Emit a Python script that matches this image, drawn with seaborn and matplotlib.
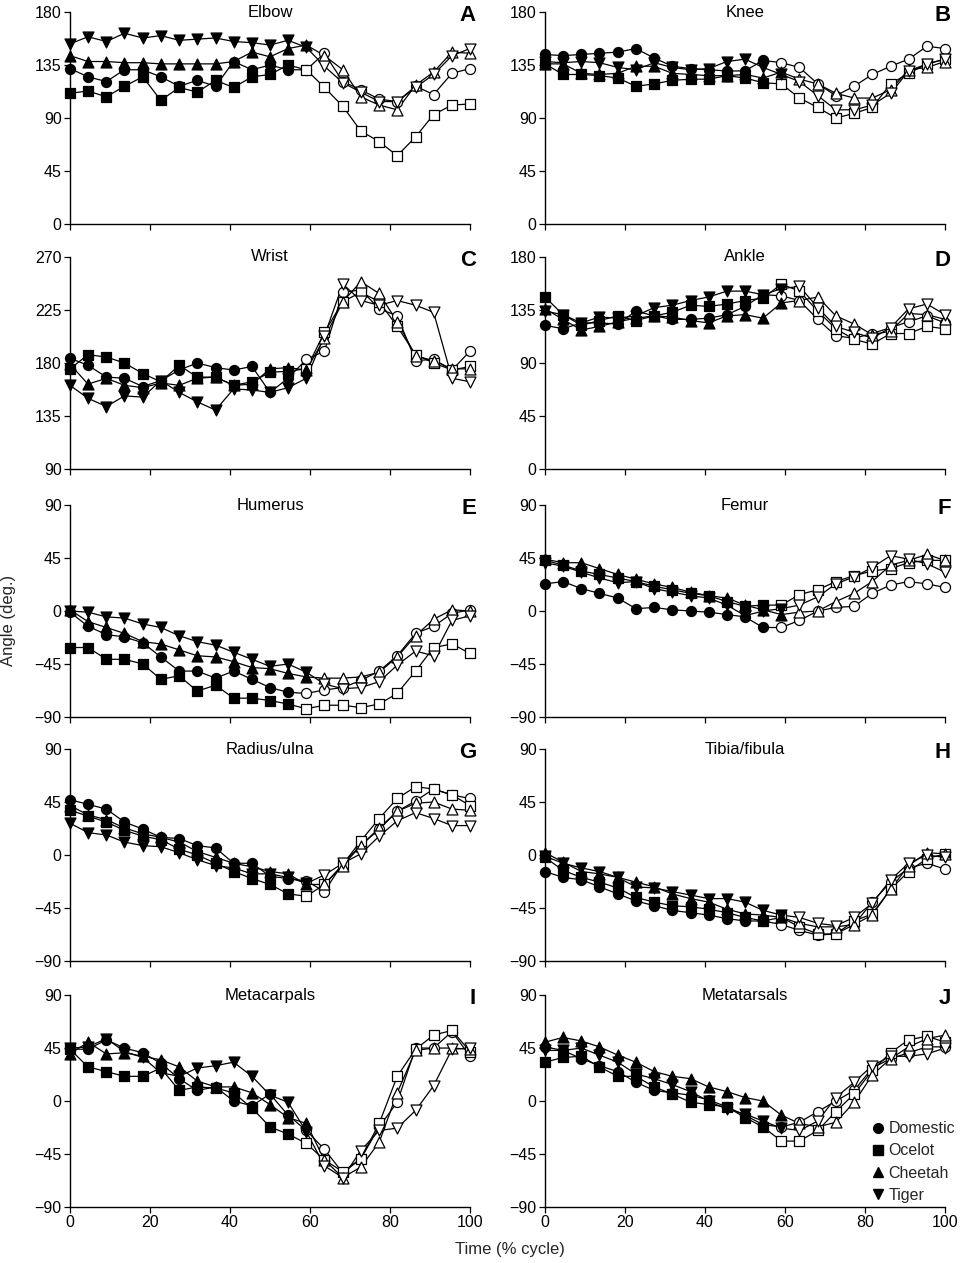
import numpy as np
import pandas as pd
import matplotlib
matplotlib.use("Agg")
import matplotlib.pyplot as plt
import seaborn as sns
from matplotlib.lines import Line2D

# ---------------- data ----------------
X = [0, 4.5, 9.1, 13.6, 18.2, 22.7, 27.3, 31.8, 36.4, 40.9, 45.5, 50.0,
     54.5, 59.1, 63.6, 68.2, 72.7, 77.3, 81.8, 86.4, 90.9, 95.5, 100]
SPECIES = ["Domestic", "Ocelot", "Cheetah", "Tiger"]

ELBOW_DOMESTIC = [132,125,121,131,131,125,117,122,117,138,131,135,131,131,145,121,114,106,104,117,110,128,132]
ELBOW_OCELOT   = [111,113,108,117,125,105,116,112,122,116,125,127,135,131,116,100,79,70,58,74,93,101,102]
ELBOW_CHEETAH  = [143,138,138,137,137,136,136,136,136,138,146,142,149,152,143,131,108,101,97,118,129,146,145]
ELBOW_TIGER    = [153,159,155,162,158,160,156,157,158,155,154,152,156,150,134,120,112,104,104,116,127,143,149]

KNEE_DOMESTIC = [144,143,144,145,146,149,141,134,132,131,130,130,139,137,133,119,109,117,127,134,140,151,149]
KNEE_OCELOT   = [136,127,127,126,124,117,119,122,123,123,126,124,120,119,107,99,90,94,99,119,128,136,140]
KNEE_CHEETAH  = [136,136,128,127,128,134,134,128,127,126,126,127,124,129,123,119,111,107,107,114,131,133,138]
KNEE_TIGER    = [138,137,138,137,133,131,137,133,131,132,138,140,133,127,121,109,97,97,101,111,130,136,140]

WRIST_DOMESTIC = [184,178,168,167,160,165,174,180,176,174,177,155,167,183,190,240,242,226,220,182,183,174,190]
WRIST_OCELOT   = [175,187,185,180,171,164,178,168,168,161,164,172,173,175,206,232,240,232,211,187,180,174,177]
WRIST_CHEETAH  = [179,162,167,161,159,163,161,167,168,161,162,175,176,174,201,232,249,239,215,186,182,175,175]
WRIST_TIGER    = [161,150,143,152,151,165,155,147,140,158,157,155,159,167,203,247,233,229,233,229,223,167,164]

ANKLE_DOMESTIC = [122,119,124,124,123,134,130,127,127,128,131,138,148,147,143,127,113,111,115,120,125,130,124]
ANKLE_OCELOT   = [146,131,122,126,130,126,130,133,139,138,140,143,145,157,151,134,119,110,106,115,115,121,119]
ANKLE_CHEETAH  = [136,127,118,121,125,128,130,129,126,124,130,131,128,141,143,146,130,123,114,117,132,131,127]
ANKLE_TIGER    = [134,131,124,129,128,130,137,139,143,146,151,151,148,153,155,137,121,116,111,120,136,140,131]

HUMERUS_DOMESTIC = [-1,-13,-20,-22,-27,-39,-51,-51,-57,-51,-58,-65,-69,-70,-67,-65,-59,-51,-38,-19,-13,-2,1]
HUMERUS_OCELOT   = [-31,-31,-41,-41,-45,-58,-55,-68,-63,-74,-74,-76,-79,-83,-80,-80,-82,-79,-70,-51,-31,-28,-36]
HUMERUS_CHEETAH  = [1,-9,-14,-19,-26,-28,-33,-38,-39,-43,-48,-49,-53,-56,-57,-57,-56,-52,-39,-21,-7,1,0]
HUMERUS_TIGER    = [0,-1,-5,-6,-11,-14,-21,-26,-29,-35,-41,-47,-45,-52,-62,-66,-65,-60,-46,-34,-38,-8,-4]

FEMUR_DOMESTIC = [23,25,19,15,11,2,3,1,0,-1,-3,-5,-14,-14,-8,0,3,4,15,22,25,23,20]
FEMUR_OCELOT   = [43,39,34,31,28,25,21,18,15,13,8,4,5,5,14,18,25,30,34,36,41,43,43]
FEMUR_CHEETAH  = [44,41,41,36,31,27,23,20,16,13,11,5,1,-3,-1,0,8,15,25,39,43,48,43]
FEMUR_TIGER    = [41,38,33,28,24,25,19,16,13,11,5,-4,0,2,5,12,23,29,37,47,44,40,33]

RADIUS_DOMESTIC = [47,43,39,28,22,15,14,8,6,-7,-7,-18,-20,-22,-31,-7,8,22,37,46,56,51,48]
RADIUS_OCELOT   = [38,33,28,21,16,13,5,0,-7,-14,-20,-25,-33,-35,-25,-8,12,31,48,58,56,51,42]
RADIUS_CHEETAH  = [42,34,30,23,18,15,11,3,-2,-7,-10,-14,-16,-25,-25,-9,8,23,37,44,45,39,38]
RADIUS_TIGER    = [27,19,17,11,8,7,2,-4,-9,-11,-16,-16,-19,-24,-17,-7,1,16,29,36,31,25,25]

TIBIA_DOMESTIC = [-14,-19,-21,-27,-33,-39,-43,-47,-49,-51,-54,-56,-56,-59,-64,-68,-67,-59,-40,-23,-11,-7,-12]
TIBIA_OCELOT   = [-2,-13,-19,-23,-28,-36,-40,-43,-44,-46,-49,-53,-56,-53,-61,-67,-67,-56,-50,-29,-14,-3,1]
TIBIA_CHEETAH  = [2,-6,-14,-16,-19,-23,-27,-33,-37,-40,-46,-50,-51,-53,-58,-61,-61,-59,-51,-29,-9,2,1]
TIBIA_TIGER    = [-1,-7,-11,-14,-19,-27,-28,-31,-34,-37,-37,-40,-47,-51,-53,-58,-60,-53,-41,-21,-7,0,-2]

METACARPAL_DOMESTIC = [44,44,52,45,41,32,19,9,12,0,-4,6,-12,-25,-41,-61,-49,-22,-1,45,45,59,38]
METACARPAL_OCELOT   = [44,29,25,21,21,28,9,12,11,7,-6,-22,-28,-36,-50,-60,-49,-19,21,44,56,60,42]
METACARPAL_CHEETAH  = [40,50,40,41,38,35,29,17,12,12,7,-3,-14,-19,-50,-65,-56,-35,7,43,45,45,44]
METACARPAL_TIGER    = [45,46,53,42,37,24,21,28,30,33,21,5,-1,-26,-55,-65,-42,-25,-23,-8,13,44,45]

METATARSAL_DOMESTIC = [46,43,36,30,25,16,9,7,5,1,-5,-12,-20,-22,-18,-9,0,9,28,36,41,46,46]
METATARSAL_OCELOT   = [33,37,38,29,21,21,12,6,-1,-3,-5,-14,-22,-34,-34,-25,-9,6,26,41,52,55,50]
METATARSAL_CHEETAH  = [50,54,51,46,39,33,25,21,19,12,8,3,0,-12,-19,-22,-18,-1,22,36,46,53,56]
METATARSAL_TIGER    = [43,43,45,39,33,23,19,14,8,0,-7,-11,-17,-23,-25,-17,3,16,30,38,38,40,45]

TITLES = ["Elbow", "Knee", "Wrist", "Ankle", "Humerus", "Femur",
          "Radius/ulna", "Tibia/fibula", "Metacarpals", "Metatarsals"]
LETTERS = ["A", "B", "C", "D", "E", "F", "G", "H", "I", "J"]
Y_TICKS = [[0, 45, 90, 135, 180], [0, 45, 90, 135, 180],
           [90, 135, 180, 225, 270], [0, 45, 90, 135, 180],
           [-90, -45, 0, 45, 90], [-90, -45, 0, 45, 90],
           [-90, -45, 0, 45, 90], [-90, -45, 0, 45, 90],
           [-90, -45, 0, 45, 90], [-90, -45, 0, 45, 90]]
X_TICKS = [0, 20, 40, 60, 80, 100]

SERIES = [
    [ELBOW_DOMESTIC, ELBOW_OCELOT, ELBOW_CHEETAH, ELBOW_TIGER],
    [KNEE_DOMESTIC, KNEE_OCELOT, KNEE_CHEETAH, KNEE_TIGER],
    [WRIST_DOMESTIC, WRIST_OCELOT, WRIST_CHEETAH, WRIST_TIGER],
    [ANKLE_DOMESTIC, ANKLE_OCELOT, ANKLE_CHEETAH, ANKLE_TIGER],
    [HUMERUS_DOMESTIC, HUMERUS_OCELOT, HUMERUS_CHEETAH, HUMERUS_TIGER],
    [FEMUR_DOMESTIC, FEMUR_OCELOT, FEMUR_CHEETAH, FEMUR_TIGER],
    [RADIUS_DOMESTIC, RADIUS_OCELOT, RADIUS_CHEETAH, RADIUS_TIGER],
    [TIBIA_DOMESTIC, TIBIA_OCELOT, TIBIA_CHEETAH, TIBIA_TIGER],
    [METACARPAL_DOMESTIC, METACARPAL_OCELOT, METACARPAL_CHEETAH, METACARPAL_TIGER],
    [METATARSAL_DOMESTIC, METATARSAL_OCELOT, METATARSAL_CHEETAH, METATARSAL_TIGER],
]

# style settings
STANCE_END = {"Domestic": 56, "Ocelot": 56, "Cheetah": 60, "Tiger": 62}
MARKERS = {"Domestic": "o", "Ocelot": "s", "Cheetah": "^", "Tiger": "v"}
SIZES = {"Domestic": 52, "Ocelot": 46, "Cheetah": 62, "Tiger": 62}

# ---------------- figure ----------------
sns.set_theme(style="ticks")
plt.rcParams["font.family"] = ["Liberation Sans", "DejaVu Sans"]
plt.rcParams["axes.unicode_minus"] = True

fig = plt.figure(figsize=(9.6, 12.63), dpi=100)
LEFTS = [70 / 960, 545 / 960]
WIDTH = 400 / 960
BOTTOMS = [0.8226, 0.6287, 0.4323, 0.2391, 0.0443]
HEIGHT = 212 / 1263

tick_font = ["Liberation Sans Narrow", "Liberation Sans", "DejaVu Sans"]

for i, (title, letter, yt, series) in enumerate(zip(TITLES, LETTERS, Y_TICKS, SERIES)):
    row, col = divmod(i, 2)
    ax = fig.add_axes([LEFTS[col], BOTTOMS[row], WIDTH, HEIGHT])
    rows = []
    for sp, vals in zip(SPECIES, series):
        for x, y in zip(X, vals):
            rows.append({"species": sp, "x": x, "y": y,
                         "phase": "stance" if x <= STANCE_END[sp] else "swing"})
    df = pd.DataFrame(rows)

    for k, sp in enumerate(SPECIES):
        d = df[df["species"] == sp]
        sns.lineplot(data=d, x="x", y="y", color="black", lw=0.9,
                     estimator=None, sort=False, legend=False, ax=ax,
                     zorder=2 + k * 0.01)
        for phase, fc in (("stance", "black"), ("swing", "white")):
            dd = d[d["phase"] == phase]
            sns.scatterplot(data=dd, x="x", y="y", marker=MARKERS[sp],
                            s=SIZES[sp], color=fc, edgecolor="black",
                            linewidth=0.9, legend=False, ax=ax,
                            clip_on=False, zorder=3 + k * 0.01)

    ax.set_xlim(0, 100)
    ax.set_ylim(yt[0], yt[-1])
    ax.set_yticks(yt)
    ax.set_xticks(X_TICKS)
    ax.set_xlabel("")
    ax.set_ylabel("")
    sns.despine(ax=ax)
    for s in ("left", "bottom"):
        ax.spines[s].set_linewidth(1.0)
        ax.spines[s].set_color("black")
    ax.tick_params(direction="out", length=4, width=0.9, colors="black",
                   labelsize=11.5, pad=2)
    for lab in ax.get_yticklabels() + ax.get_xticklabels():
        lab.set_family(tick_font)
    if row < 4:
        ax.set_xticklabels([])
    ax.set_facecolor("white")

    ax.text(0.5, 1.0, title, transform=ax.transAxes, ha="center", va="center",
            fontsize=12, color="black")
    ax.text(1.015, 0.985, letter, transform=ax.transAxes, ha="right", va="center",
            fontsize=16, fontweight="bold", color="black")

    if i == 9:
        handles = [Line2D([], [], marker=MARKERS[sp], color="black", linestyle="none",
                          markersize=7 if sp in ("Domestic", "Ocelot") else 7.5)
                   for sp in SPECIES]
        ax.legend(handles, SPECIES, loc="lower right", bbox_to_anchor=(1.025, 0.02),
                  frameon=False, fontsize=11.5, labelspacing=0.45, handletextpad=0.15,
                  handlelength=1.0, borderpad=0.0, borderaxespad=0.0)

fig.text(0.009, 0.509, "Angle (deg.)", rotation=90, ha="center", va="center",
         fontsize=12, family=tick_font)
fig.text(0.531, 0.0103, "Time (% cycle)", ha="center", va="center",
         fontsize=12, family=tick_font)

fig.savefig("out.png", dpi=100, facecolor="white")
